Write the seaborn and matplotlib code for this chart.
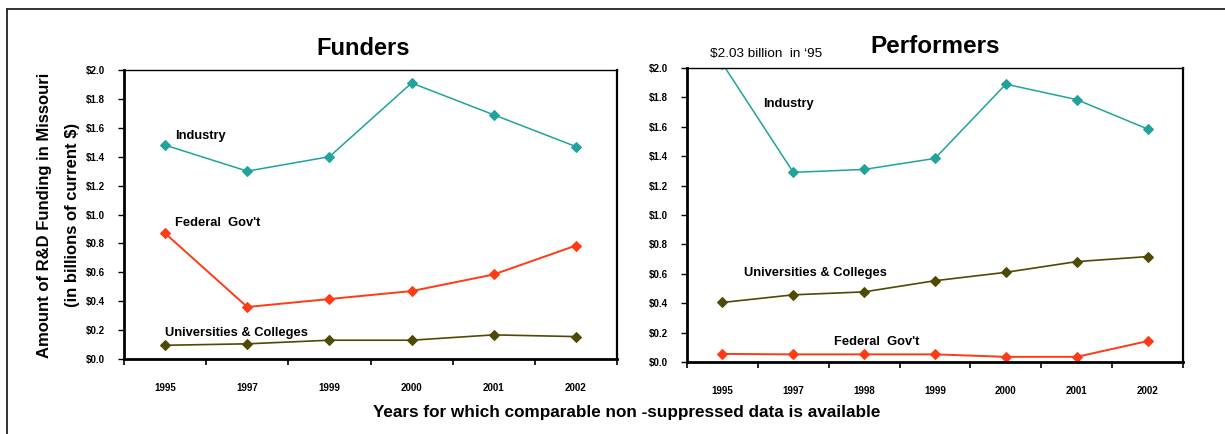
import matplotlib
matplotlib.use("Agg")
import matplotlib.pyplot as plt
import seaborn as sns
import pandas as pd
from matplotlib.lines import Line2D
from matplotlib.ticker import FixedLocator

# ---- data (billions of current dollars) ----
funder_years = ["1995", "1997", "1999", "2000", "2001", "2002"]
funder_industry = [1.48, 1.30, 1.40, 1.91, 1.69, 1.47]
funder_federal = [0.87, 0.36, 0.415, 0.47, 0.585, 0.785]
funder_univ = [0.095, 0.105, 0.13, 0.13, 0.167, 0.155]

performer_years = ["1995", "1997", "1998", "1999", "2000", "2001", "2002"]
performer_industry = [2.03, 1.29, 1.31, 1.385, 1.89, 1.785, 1.585]
performer_univ = [0.405, 0.457, 0.477, 0.553, 0.61, 0.683, 0.717]
performer_federal = [0.055, 0.052, 0.052, 0.052, 0.035, 0.035, 0.142]

series_names = ["Industry", "Federal  Gov't", "Universities & Colleges"]
series_colors = {"Industry": "#1FA39B",
                 "Federal  Gov't": "#FF3A14",
                 "Universities & Colleges": "#4E4A05"}
series_widths = {"Industry": 1.1, "Federal  Gov't": 1.4, "Universities & Colleges": 1.2}

sns.set_style("white")
plt.rcParams["font.family"] = ["Liberation Sans", "DejaVu Sans"]
plt.rcParams["text.color"] = "black"
plt.rcParams["xtick.color"] = "black"
plt.rcParams["ytick.color"] = "black"
plt.rcParams["axes.labelcolor"] = "black"

W, H = 1225, 434
fig = plt.figure(figsize=(W / 100, H / 100), dpi=100)


def box(x0, y0, x1, y1):
    return [x0 / W, 1 - y1 / H, (x1 - x0) / W, (y1 - y0) / H]


def long_frame(years, values_by_series):
    rows = []
    for name, vals in values_by_series.items():
        for i, (yr, v) in enumerate(zip(years, vals)):
            rows.append({"pos": i, "year": yr, "series": name, "value": v})
    return pd.DataFrame(rows)


def style_axes(ax, years, tick_pad):
    n = len(years)
    ax.set_xlim(-0.5, n - 0.5)
    ax.set_ylim(0, 2.0)
    yt = [i * 0.2 for i in range(11)]
    ax.set_yticks(yt)
    ax.set_yticklabels([f"${v:.1f}" for v in yt], fontsize=7, fontweight="bold",
                       color="black")
    ax.set_xticks(range(n))
    ax.set_xticklabels(years, fontsize=7, fontweight="bold", color="black")
    ax.xaxis.set_minor_locator(FixedLocator([i - 0.5 for i in range(n + 1)]))
    ax.tick_params(axis="x", which="major", length=0, pad=tick_pad)
    ax.tick_params(axis="x", which="minor", length=4, width=1.2, color="black",
                   direction="out", bottom=True)
    ax.tick_params(axis="y", which="major", length=4, width=1.0, color="black",
                   direction="out", left=True, pad=10)
    ax.set_xlabel("")
    ax.set_ylabel("")
    for side, lw in (("left", 2.0), ("bottom", 2.0), ("top", 1.0), ("right", 1.6)):
        ax.spines[side].set_visible(True)
        ax.spines[side].set_color("black")
        ax.spines[side].set_linewidth(lw)
    ax.set_facecolor("white")


def draw_panel(ax, years, values_by_series):
    df = long_frame(years, values_by_series)
    for name in series_names:
        sub = df[df["series"] == name]
        sns.lineplot(data=sub, x="pos", y="value", ax=ax, color=series_colors[name],
                     linewidth=series_widths[name], marker="D", markersize=5.5,
                     markeredgecolor=series_colors[name], legend=False)


label_font = dict(fontsize=9.3, fontweight="bold", color="black", va="center", ha="left")

# ---- Funders ----
ax1 = fig.add_axes(box(124, 70, 617, 359))
draw_panel(ax1, funder_years, {"Industry": funder_industry,
                               "Federal  Gov't": funder_federal,
                               "Universities & Colleges": funder_univ})
style_axes(ax1, funder_years, 17)
ax1.set_title("Funders", fontsize=17, fontweight="bold", pad=11, x=0.485, color="black")
ax1.text(0.12, 1.54, "Industry", **label_font)
ax1.text(0.12, 0.94, "Federal  Gov't", **label_font)
ax1.text(0.0, 0.18, "Universities & Colleges", **label_font)

# ---- Performers ----
ax2 = fig.add_axes(box(687, 68, 1183, 362))
draw_panel(ax2, performer_years, {"Industry": performer_industry,
                                  "Federal  Gov't": performer_federal,
                                  "Universities & Colleges": performer_univ})
style_axes(ax2, performer_years, 17)
ax2.set_title("Performers", fontsize=17.5, fontweight="bold", pad=11, color="black")
ax2.text(0.58, 1.757, "Industry", **label_font)
ax2.text(0.31, 0.605, "Universities & Colleges", **label_font)
ax2.text(1.57, 0.137, "Federal  Gov't", **label_font)
ax2.text(-0.18, 2.095, f"${performer_industry[0]:.2f} billion  in \u201895",
         fontsize=9.7, color="black", va="center", ha="left")

# ---- shared axis titles ----
fig.text(45 / W, 1 - 215 / H, "Amount of R&D Funding in Missouri", rotation=90,
         fontsize=12, fontweight="bold", ha="center", va="center")
fig.text(73 / W, 1 - 215 / H, "(in billions of current $)", rotation=90,
         fontsize=12, fontweight="bold", ha="center", va="center")
fig.text(627 / W, 1 - 413 / H,
         "Years for which comparable non -suppressed data is available",
         fontsize=12.3, fontweight="bold", ha="center", va="center")

# ---- outer frame ----
fig.add_artist(Line2D([7 / W, 1.0], [1 - 9 / H, 1 - 9 / H], transform=fig.transFigure,
                      color="#222222", linewidth=1.3))
fig.add_artist(Line2D([7 / W, 7 / W], [1 - 9 / H, 0.0], transform=fig.transFigure,
                      color="#222222", linewidth=1.3))

fig.savefig("out.png", dpi=100, facecolor="white")
